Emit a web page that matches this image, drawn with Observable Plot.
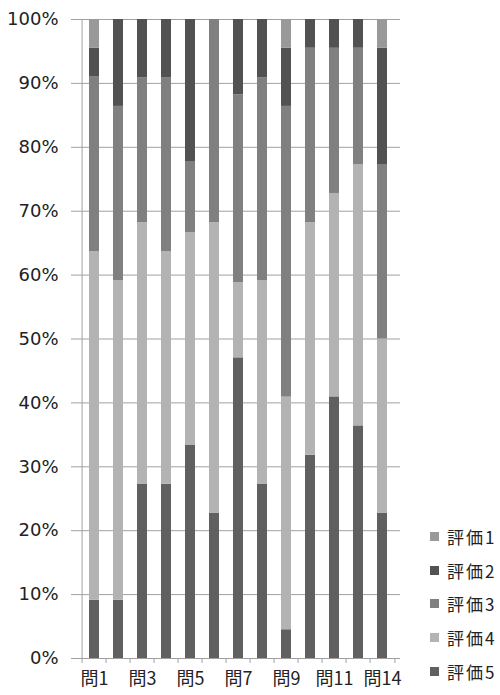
<!DOCTYPE html>
<html><head><meta charset="utf-8">
<script src="https://cdn.jsdelivr.net/npm/d3@7"></script>
<script src="https://cdn.jsdelivr.net/npm/@observablehq/plot@0.6"></script>
<style>
body{margin:0;background:#fff;}
#wrap{position:relative;width:500px;height:695px;}
#legend{position:absolute;left:430px;top:520px;font-family:"Noto Sans CJK JP",sans-serif;font-size:17px;color:#222;}
#legend .row{height:33.6px;display:flex;align-items:center;white-space:nowrap;letter-spacing:2px;}
#legend .sw{width:9px;height:9px;margin-right:8px;display:inline-block;}
</style></head><body><div id="wrap"><div id="legend"></div></div>
<script>
const questions = ["問1","問2","問3","問4","問5","問6","問7","問8","問9","問10","問11","問12","問14"];
const labeledQuestions = ["問1","問3","問5","問7","問9","問11","問14"];
const ratings = ["評価1","評価2","評価3","評価4","評価5"];
const ratingColors = ["#999999","#525252","#808080","#b3b3b3","#606060"];
const rating1 = [4.5, 0, 0, 0, 0, 0, 0, 0, 4.5, 0, 0, 0, 4.5];
const rating2 = [4.5, 13.6, 9.1, 9.1, 22.2, 0, 11.8, 9.1, 9.1, 4.5, 4.5, 4.5, 18.2];
const rating3 = [27.3, 27.3, 22.7, 27.3, 11.1, 31.8, 29.4, 31.8, 45.5, 27.3, 22.7, 18.2, 27.3];
const rating4 = [54.5, 50.0, 40.9, 36.4, 33.3, 45.5, 11.8, 31.8, 36.4, 36.4, 31.8, 40.9, 27.3];
const rating5 = [9.1, 9.1, 27.3, 27.3, 33.3, 22.7, 47.1, 27.3, 4.5, 31.8, 40.9, 36.4, 22.7];
const yTicks = [0,10,20,30,40,50,60,70,80,90,100];

const series = [rating1, rating2, rating3, rating4, rating5];
const stackOrder = ["評価5","評価4","評価3","評価2","評価1"];
const data = [];
questions.forEach((q, i) => {
  stackOrder.forEach(r => {
    data.push({q, r, v: series[ratings.indexOf(r)][i]});
  });
});

const W = 500, H = 695, mL = 77, mR = 100, mT = 19, mB = 37;
const step = (W - mL - mR) / questions.length;
const gray = "#a0a0a0";
const yFrac = yTicks.map(d => d / 100);

const chart = Plot.plot({
  width: W, height: H,
  marginLeft: mL, marginRight: mR, marginTop: mT, marginBottom: mB,
  style: {fontFamily: "'DejaVu Sans', sans-serif", color: "#222", background: "#fff", overflow: "visible"},
  x: {domain: questions, paddingInner: 0.57, paddingOuter: 0.285},
  y: {domain: [0, 1]},
  color: {domain: ratings, range: ratingColors},
  marks: [
    Plot.ruleY(yFrac, {stroke: gray, strokeWidth: 1}),
    Plot.axisY({ticks: yFrac, tickSize: 6, tickPadding: 13, tickFormat: d => Math.round(d * 100) + "%", stroke: gray, fill: "#222", label: null}),
    Plot.barY(data, Plot.stackY({x: "q", y: "v", fill: "r", order: stackOrder, offset: "normalize"})),
    Plot.ruleX([questions[0]], {dx: -step / 2, stroke: gray}),
    Plot.axisX({ticks: questions, tickSize: 5, tickFormat: () => "", dx: -step / 2, stroke: gray, label: null}),
    Plot.axisX({ticks: [questions[questions.length - 1]], tickSize: 5, tickFormat: () => "", dx: step / 2, stroke: gray, label: null}),
    Plot.axisX({ticks: labeledQuestions, tickSize: 0, tickPadding: 14, fill: "#222", label: null})
  ]
});
document.getElementById("wrap").prepend(chart);

// tick label fonts
d3.select(chart).selectAll("text").each(function() {
  const t = this.textContent;
  if (t.endsWith("%")) {
    d3.select(this).style("font-size", "18px").style("font-family", "'DejaVu Sans', sans-serif");
  } else if (t.startsWith("問")) {
    d3.select(this).style("font-size", "18px").style("font-family", "'Noto Sans CJK JP', sans-serif");
  }
});

const legend = d3.select("#legend");
ratings.forEach((r, i) => {
  const row = legend.append("div").attr("class", "row");
  row.append("span").attr("class", "sw").style("background", ratingColors[i]);
  row.append("span").text(r);
});
</script></body></html>
